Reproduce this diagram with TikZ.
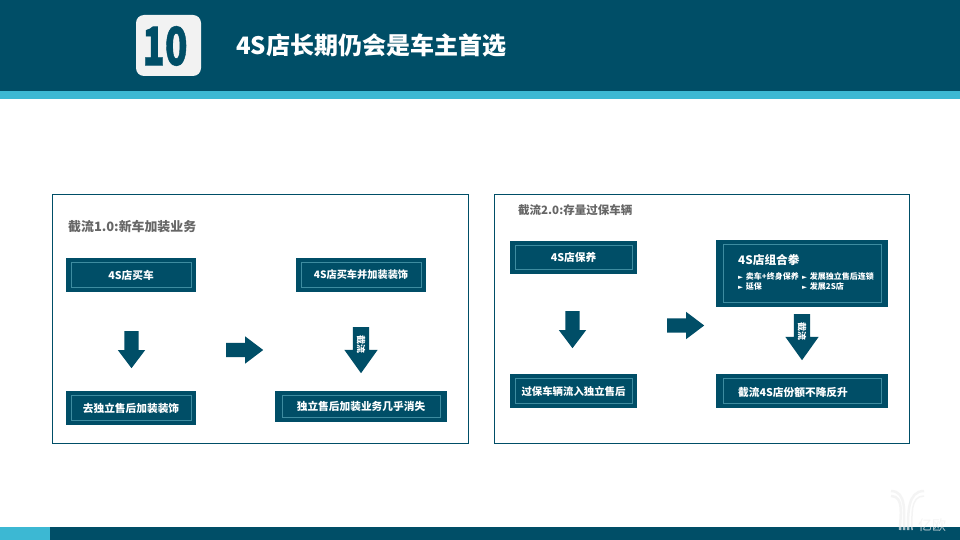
\documentclass[tikz,border=0pt]{standalone}
\usepackage{fontspec}
\usepackage{tikz}
\usetikzlibrary{shapes.arrows}
\setmainfont{Noto Sans CJK SC}
\newfontfamily\symfont{DejaVu Sans}
\definecolor{darkteal}{RGB}{0,78,103}
\definecolor{skyband}{RGB}{60,184,211}
\definecolor{innerline}{RGB}{62,140,160}
\definecolor{titlegray}{RGB}{102,102,102}
\definecolor{markgray}{RGB}{240,240,240}
\newcommand{\tickmark}{{\symfont\fontsize{6.5}{6.5}\selectfont►}\,\,}
\tikzset{
	boxnode/.style={fill=darkteal,text=white,font=\bfseries\fontsize{10.7}{12}\selectfont,inner sep=0pt,
		path picture={\draw[innerline,line width=0.8pt] ([shift={(#1pt,4.5pt)}]path picture bounding box.south west) rectangle ([shift={(-#1pt,-4.5pt)}]path picture bounding box.north east);}},
	panel/.style={draw=darkteal,line width=0.8pt},
	paneltitle/.style={text=titlegray,anchor=west,inner sep=0pt,font=\bfseries\fontsize{#1}{#1}\selectfont},
	smalltext/.style={text=white,anchor=west,inner sep=0pt,font=\bfseries\fontsize{8}{9}\selectfont},
	downarrow/.style={single arrow,fill=darkteal,rotate=-90,anchor=tail,inner xsep=0pt,inner ysep=7pt,minimum height=37pt,single arrow head extend=6.5pt,single arrow tip angle=74},
	rightarrow/.style={single arrow,fill=darkteal,anchor=tail,inner xsep=0pt,inner ysep=7pt,minimum height=37pt,single arrow head extend=6.5pt,single arrow tip angle=74},
	cutarrow/.style={single arrow,fill=darkteal,rotate=-90,anchor=tail,inner xsep=2.5pt,inner ysep=3.5pt,text height=7.8pt,text depth=1.2pt,text=white,font=\bfseries\fontsize{9}{9}\selectfont,minimum height=46pt,single arrow head extend=8.5pt,single arrow tip angle=71},
	markline/.style={draw=markgray,opacity=0.7,line width=2.5pt},
}
\begin{document}
\begin{tikzpicture}[x=1pt,y=-1pt]
	\useasboundingbox (0,0) rectangle (960,540);
	\fill[white] (0,0) rectangle (960,540);
	\fill[darkteal] (0,0) rectangle (960,91);
	\fill[skyband] (0,91) rectangle (960,99);
	\fill[darkteal] (50,527) rectangle (960,540);
	\fill[skyband] (0,527) rectangle (50,540);
	\fill[white!95!black,rounded corners=8pt] (136,15) rectangle (201,76);
	\node[text=darkteal,font=\bfseries\fontsize{53}{53}\selectfont\addfontfeature{FakeBold=1},xscale=0.7,inner sep=0pt] (number) at (165,46) {10};
	\node[text=white,anchor=west,inner sep=0pt,font=\bfseries\fontsize{24}{24}\selectfont] (title) at (236,45) {4S店长期仍会是车主首选};

	\draw[panel] (52,194) rectangle (468,443);
	\node[paneltitle=12.9] (titleA) at (68,227) {截流1.0:新车加装业务};
	\node[boxnode=5,minimum width=130pt,minimum height=34pt] (buy) at (131,275) {4S店买车};
	\node[boxnode=5,minimum width=130pt,minimum height=34pt,font=\bfseries\fontsize{10.2}{12}\selectfont] (buyplus) at (361,275) {4S店买车并加装装饰};
	\node[boxnode=5,minimum width=130pt,minimum height=34pt] (after) at (131,408) {去独立售后加装装饰};
	\node[boxnode=7,minimum width=172pt,minimum height=31pt] (gone) at (361,406.5) {独立售后加装业务几乎消失};
	\node[downarrow] (downA) at (131.5,331) {};
	\node[rightarrow] (rightA) at (226,350) {};
	\node[cutarrow] (cutA) at (361,327) {截流};

	\draw[panel] (494,194) rectangle (909,443);
	\node[paneltitle=11.5] (titleB) at (518,210) {截流2.0:存量过保车辆};
	\node[boxnode=5,minimum width=127pt,minimum height=33pt] (care) at (573.5,257) {4S店保养};
	\node[boxnode=5,minimum width=127pt,minimum height=34pt,font=\bfseries\fontsize{10.4}{12}\selectfont] (flow) at (573.5,391) {过保车辆流入独立售后};
	\node[boxnode=7,minimum width=172pt,minimum height=67pt] (combo) at (802,273.5) {};
	\node[boxnode=7,minimum width=172pt,minimum height=34pt] (share) at (802,391) {};
	\node[downarrow] (downB) at (572.5,311) {};
	\node[rightarrow] (rightB) at (667,325.5) {};
	\node[cutarrow] (cutB) at (802,314) {截流};

	\node[smalltext,font=\bfseries\fontsize{11.7}{12}\selectfont] (comboT) at (738,260) {4S店组合拳};
	\node[smalltext] (itemA) at (738,276.5) {\tickmark 卖车+终身保养};
	\node[smalltext] (itemB) at (802,276.5) {\tickmark 发展独立售后连锁};
	\node[smalltext] (itemC) at (738,286) {\tickmark 延保};
	\node[smalltext] (itemD) at (802,286) {\tickmark 发展2S店};
	\node[smalltext,font=\bfseries\fontsize{10.7}{12}\selectfont] (shareT) at (738,392) {截流4S店份额不降反升};

	\draw[markline] (891,491) to[out=0,in=90] (904,530);
	\draw[markline] (891,496) to[out=0,in=90] (900,530);
	\draw[markline] (924,491) to[out=180,in=90] (908,530);
	\draw[markline,line width=1.5pt] (924,496) to[out=180,in=90] (912,530);
	\node[text=markgray,opacity=0.7,anchor=west,inner sep=0pt,font=\fontsize{14}{14}\selectfont] (brand) at (918,525) {亿欧};
\end{tikzpicture}
\end{document}
